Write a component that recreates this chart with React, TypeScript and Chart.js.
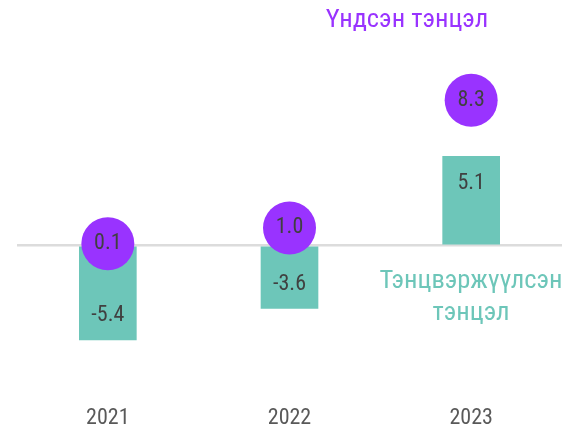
import React, { useEffect, useRef } from "react";
import { Chart, registerables } from "chart.js";
Chart.register(...registerables);

const years = ["2021", "2022", "2023"];
const balancedBalance = [-5.4, -3.6, 5.1];
const primaryBalance = [0.1, 1.0, 8.3];
const primaryLabel = "Үндсэн тэнцэл";
const balancedLabelLines = ["Тэнцвэржүүлсэн", "тэнцэл"];
const yRange = { min: -9.06, max: 12 };

const TEAL = "#6dc6b9";
const PURPLE = "#9933ff";
const FONT = "'Roboto Condensed', Roboto, sans-serif";

const labelPlugin = {
  id: "valueLabels",
  afterDatasetsDraw(chart: any) {
    const ctx = chart.ctx;
    ctx.save();
    ctx.font = `22px ${FONT}`;
    ctx.fillStyle = "#404040";
    ctx.textAlign = "center";
    ctx.textBaseline = "middle";
    const barMeta = chart.getDatasetMeta(1);
    barMeta.data.forEach((el: any, i: number) => {
      const v = balancedBalance[i];
      const y = v < 0 ? el.y - 24 : el.y + 27;
      ctx.fillText(v.toFixed(1), el.x, y);
    });
    const ptMeta = chart.getDatasetMeta(0);
    ptMeta.data.forEach((el: any, i: number) => {
      ctx.fillText(primaryBalance[i].toFixed(1), el.x, el.y);
    });
    ctx.restore();
  },
  afterDraw(chart: any) {
    const ctx = chart.ctx;
    ctx.save();
    ctx.textAlign = "center";
    ctx.textBaseline = "middle";
    ctx.font = `26.5px ${FONT}`;
    ctx.fillStyle = PURPLE;
    ctx.fillText(primaryLabel, 407, 20);
    ctx.font = `26.5px ${FONT}`;
    ctx.fillStyle = TEAL;
    ctx.fillText(balancedLabelLines[0], 471, 281);
    ctx.fillText(balancedLabelLines[1], 471, 313);
    ctx.restore();
  },
};

export default function App() {
  const ref = useRef<HTMLCanvasElement>(null);
  useEffect(() => {
    document.body.style.margin = "0";
    const chart = new Chart(ref.current!, {
      type: "bar",
      data: {
        labels: years,
        datasets: [
          {
            type: "line",
            label: primaryLabel,
            data: primaryBalance,
            showLine: false,
            pointRadius: 26.5,
            pointHoverRadius: 26.5,
            pointBackgroundColor: PURPLE,
            pointBorderWidth: 0,
            borderColor: PURPLE,
            clip: false,
            order: 0,
          } as any,
          {
            type: "bar",
            label: balancedLabelLines.join(" "),
            data: balancedBalance,
            backgroundColor: TEAL,
            barThickness: 57,
            order: 1,
          },
        ],
      },
      options: {
        responsive: false,
        animation: false,
        layout: { autoPadding: false, padding: { left: 17, right: 4, top: 35.5, bottom: 0 } },
        plugins: { legend: { display: false }, tooltip: { enabled: false } },
        scales: {
          x: {
            grid: { display: false },
            border: { display: false },
            ticks: { color: "#595959", font: { family: FONT, size: 22, lineHeight: 1 }, padding: -5 },
            afterFit: (s: any) => {
              s.paddingLeft = 0;
              s.paddingRight = 0;
              s.height = 22;
            },
          },
          y: {
            min: yRange.min,
            max: yRange.max,
            afterBuildTicks: (s: any) => {
              s.ticks = [{ value: 0 }];
            },
            afterFit: (s: any) => {
              s.width = 0;
            },
            ticks: { display: false },
            border: { display: false },
            grid: { color: "#dcdcdc", lineWidth: 2.5, drawTicks: false },
          },
        },
      },
      plugins: [labelPlugin],
    });
    return () => chart.destroy();
  }, []);
  return <canvas ref={ref} width={566} height={426} />;
}
